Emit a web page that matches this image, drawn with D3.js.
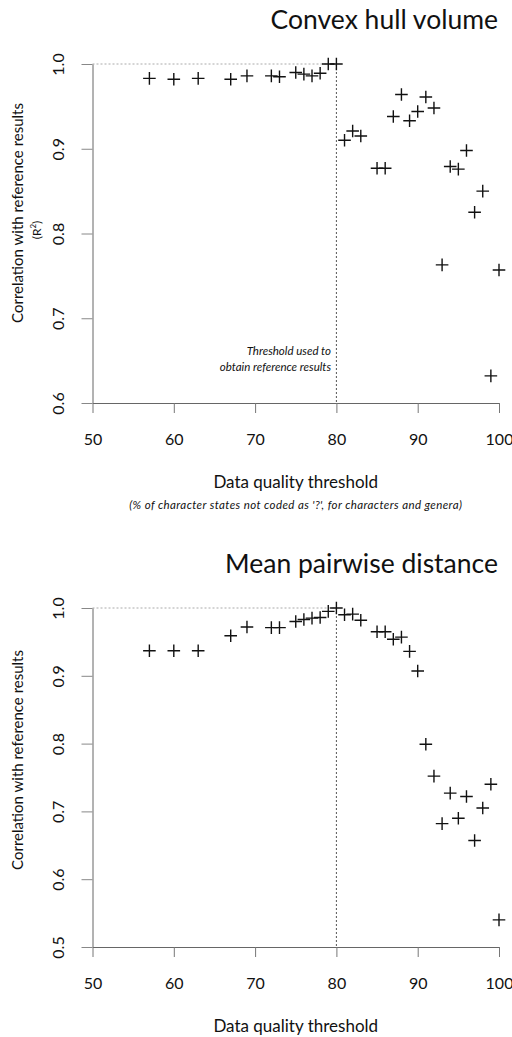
<!DOCTYPE html>
<html>
<head>
<meta charset="utf-8">
<script src="https://cdn.jsdelivr.net/npm/d3@7/dist/d3.min.js"></script>
<style>
  html, body { margin: 0; padding: 0; background: #fff; }
  svg { display: block; font-family: Lato, "Open Sans", sans-serif; }
</style>
</head>
<body>
<svg id="chart" width="512" height="1037"></svg>
<script>
// ---- data ----
const thresholds = [57, 60, 63, 67, 69, 72, 73, 75, 76, 77, 78, 79, 80,
                    81, 82, 83, 85, 86, 87, 88, 89, 90, 91, 92, 93, 94, 95, 96, 97, 98, 99, 100];
const convexHull = [0.983, 0.982, 0.983, 0.982, 0.986, 0.986, 0.985, 0.990, 0.988, 0.986, 0.989, 1.000, 1.000,
                    0.910, 0.921, 0.915, 0.877, 0.877, 0.938, 0.964, 0.933, 0.944, 0.961, 0.948, 0.763, 0.879, 0.876, 0.898, 0.825, 0.850, 0.632, 0.757];
const meanPairwise = [0.937, 0.937, 0.937, 0.959, 0.972, 0.971, 0.971, 0.980, 0.983, 0.985, 0.986, 0.995, 1.000,
                      0.990, 0.991, 0.982, 0.965, 0.965, 0.954, 0.957, 0.936, 0.907, 0.799, 0.752, 0.682, 0.727, 0.690, 0.722, 0.657, 0.705, 0.740, 0.540];
const xTicks = [50, 60, 70, 80, 90, 100];
const yTicksTop = [0.6, 0.7, 0.8, 0.9, 1.0];
const yTicksBottom = [0.5, 0.6, 0.7, 0.8, 0.9, 1.0];
const referenceThreshold = 80;
const titles = ["Convex hull volume", "Mean pairwise distance"];

const svg = d3.select("#chart");
const x = d3.scaleLinear().domain([50, 100]).range([92.5, 499]);

function panel(cfg) {
  const g = svg.append("g");
  const y = d3.scaleLinear().domain(cfg.yDomain).range(cfg.yRange);
  const y0 = cfg.yRange[0];

  // reference lines
  g.append("line")
    .attr("x1", x(50)).attr("x2", x(referenceThreshold))
    .attr("y1", y(1)).attr("y2", y(1))
    .attr("stroke", "#aaa").attr("stroke-width", 1).attr("stroke-dasharray", "2,2");
  g.append("line")
    .attr("x1", x(referenceThreshold)).attr("x2", x(referenceThreshold))
    .attr("y1", y(1)).attr("y2", y0)
    .attr("stroke", "#555").attr("stroke-width", 1).attr("stroke-dasharray", "2,2");

  // x axis
  const xa = g.append("g").attr("transform", `translate(0,${y0})`)
    .call(d3.axisBottom(x).tickValues(xTicks).tickSize(10).tickSizeOuter(0).tickFormat(d3.format("d")));
  xa.select(".domain").attr("stroke", "#666");
  xa.selectAll(".tick line").attr("stroke", "#777");
  xa.selectAll(".tick text").attr("y", 42).attr("dy", 0)
    .attr("font-size", 16).attr("fill", "#111").attr("font-family", "Lato, sans-serif");

  // y axis
  const ya = g.append("g").attr("transform", `translate(${x(50)},0)`)
    .call(d3.axisLeft(y).tickValues(cfg.yTicks).tickSize(11).tickSizeOuter(0).tickFormat(d3.format(".1f")));
  ya.select(".domain").attr("stroke", "#666");
  ya.selectAll(".tick line").attr("stroke", "#888");
  ya.selectAll(".tick text")
    .attr("transform", "rotate(-90)")
    .attr("x", 0).attr("y", -29).attr("dy", 0)
    .attr("text-anchor", "middle")
    .attr("font-size", 16).attr("fill", "#111").attr("font-family", "Lato, sans-serif");

  // points
  g.append("g").selectAll("path")
    .data(thresholds.map((t, i) => [t, cfg.values[i]]))
    .join("path")
    .attr("transform", d => `translate(${x(d[0])},${y(d[1])})`)
    .attr("d", "M-6.3,0H6.3M0,-6.3V6.3")
    .attr("stroke", "#111").attr("stroke-width", 1.4).attr("fill", "none");

  // title
  g.append("text").attr("x", 498).attr("y", cfg.titleY)
    .attr("text-anchor", "end").attr("font-size", 26.5).attr("fill", "#111")
    .text(cfg.title);

  // x axis title
  g.append("text").attr("x", (x(50) + x(100)) / 2).attr("y", y0 + 85)
    .attr("text-anchor", "middle").attr("font-size", 17).attr("fill", "#111")
    .text("Data quality threshold");

  // y axis title
  g.append("text")
    .attr("transform", `translate(23,${cfg.yTitleCenter}) rotate(-90)`)
    .attr("text-anchor", "middle").attr("font-size", 15).attr("fill", "#111")
    .text("Correlation with reference results");
  return { g, y, y0 };
}

const topPanel = panel({ yDomain: [0.6, 1.0], yRange: [403, 64], yTicks: yTicksTop, values: convexHull,
                    title: titles[0], titleY: 28.5, yTitleCenter: 213 });
const bottomPanel = panel({ yDomain: [0.5, 1.0], yRange: [947, 608], yTicks: yTicksBottom, values: meanPairwise,
                    title: titles[1], titleY: 573, yTitleCenter: 760 });

// (R²) under top y title
const r2 = topPanel.g.append("text")
  .attr("transform", "translate(41,230) rotate(-90)")
  .attr("text-anchor", "middle").attr("font-size", 12).attr("fill", "#111");
r2.append("tspan").text("(R");
r2.append("tspan").attr("font-size", 8).attr("dy", -5).text("2");
r2.append("tspan").attr("dy", 5).text(")");

// subtitle under top x title
topPanel.g.append("text").attr("x", (x(50) + x(100)) / 2).attr("y", 509)
  .attr("text-anchor", "middle").attr("font-size", 11.5).attr("letter-spacing", 0.4)
  .attr("font-style", "italic").attr("fill", "#111")
  .text("(% of character states not coded as '?', for characters and genera)");

// annotation
const ann = topPanel.g.append("text").attr("text-anchor", "end").attr("font-size", 11.5)
  .attr("font-style", "italic").attr("fill", "#111");
ann.append("tspan").attr("x", 331).attr("y", 355).text("Threshold used to");
ann.append("tspan").attr("x", 331).attr("y", 371).text("obtain reference results");
</script>
</body>
</html>
